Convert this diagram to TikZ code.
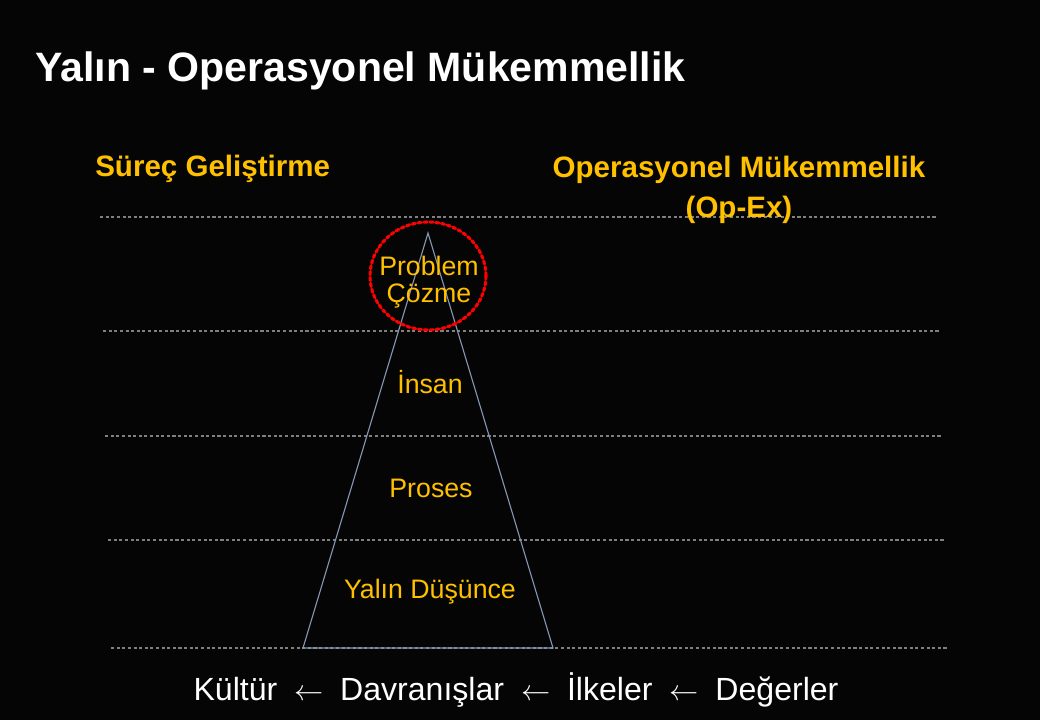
\documentclass[tikz,border=0pt]{standalone}
\usepackage{fontspec}
\setmainfont{Liberation Sans}
\usetikzlibrary{positioning}

\definecolor{opexorange}{RGB}{255,192,0}
\definecolor{rulegray}{RGB}{128,128,128}
\definecolor{pyramidline}{RGB}{132,150,176}

\newcommand{\footarrow}{\hspace{12pt}$\leftarrow$\hspace{12pt}}

\begin{document}
\begin{tikzpicture}[x=0.025cm, y=-0.025cm]

% Styles
        \tikzstyle{title}=[text=white, font=\bfseries\fontsize{29.2}{34}\selectfont, anchor=base west, inner sep=0pt]
        \tikzstyle{heading}=[text=opexorange, font=\bfseries\fontsize{21}{28.5}\selectfont, inner sep=0pt, align=center]
        \tikzstyle{level}=[text=opexorange, font=\fontsize{19}{19}\selectfont, inner sep=0pt, align=center]
        \tikzstyle{levelline}=[rulegray, dashed, dash pattern=on 2.2pt off 1.8pt, line width=0.75pt]
        \tikzstyle{pyramid}=[pyramidline, line width=0.8pt]
        \tikzstyle{footer}=[text=white, font=\fontsize{22.8}{26}\selectfont, inner sep=0pt, anchor=base]

% Background
        \fill[black!98] (0,0) rectangle (1040,720);

% Level lines
        \foreach \y/\x in {217/100, 331/103, 436/105, 540/108, 648/111}
            \draw[levelline] (\x,\y) -- (\x+838,\y);

% Title
        \node[title] (title) at (35,82) {Yalın - Operasyonel Mükemmellik};

% Headings
        \node[heading, anchor=base west] (surec) at (95,177) {Süreç Geliştirme};
        \node[heading, anchor=base] (opex) at (739,218) {Operasyonel Mükemmellik\\(Op-Ex)};

% Pyramid
        \coordinate (apex) at (428,233);
        \coordinate (baseleft) at (303,648);
        \coordinate (baseright) at (553,648);
        \draw[pyramid] (apex) -- (baseleft) -- (baseright) -- cycle;

% Problem solving circle
        \draw[red, dotted, line width=2.2pt, line cap=round] (428,276) ellipse [x radius=58, y radius=54];

% Levels
        \node[level] (problem) at (429,282) {Problem\\Çözme};
        \node[level] (insan) at (430,382) {İnsan};
        \node[level] (proses) at (431,488) {Proses};
        \node[level] (yalin) at (430,592) {Yalın Düşünce};

% Footer
        \node[footer] (footer) at (516,700)
            {Kültür\footarrow Davranışlar\footarrow İlkeler\footarrow Değerler};

    \end{tikzpicture}
\end{document}
